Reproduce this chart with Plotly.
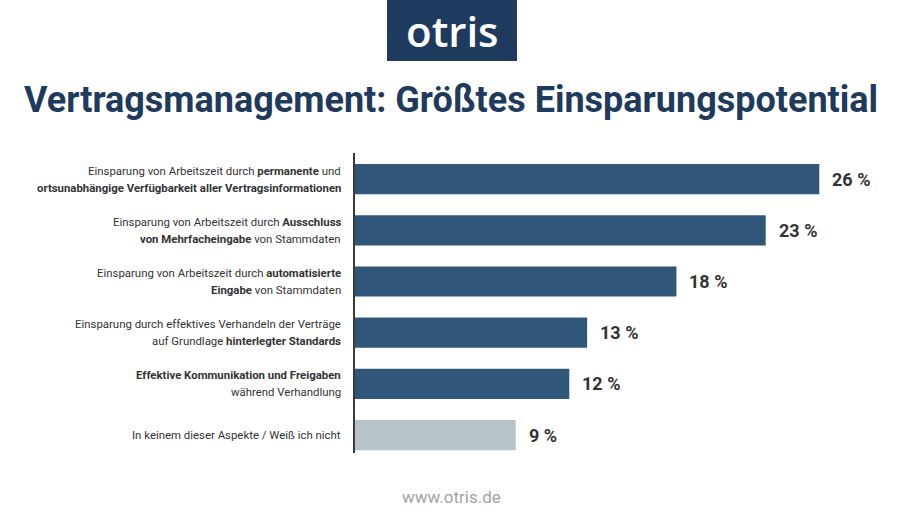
import plotly.graph_objects as go

categories_line1 = [
    "Einsparung von Arbeitszeit durch <b>permanente</b> und",
    "Einsparung von Arbeitszeit durch <b>Ausschluss</b>",
    "Einsparung von Arbeitszeit durch <b>automatisierte</b>",
    "Einsparung durch effektives Verhandeln der Verträge",
    "<b>Effektive Kommunikation und Freigaben</b>",
    "In keinem dieser Aspekte / Weiß ich nicht",
]
categories_line2 = [
    "<b>ortsunabhängige Verfügbarkeit aller Vertragsinformationen</b>",
    "<b>von Mehrfacheingabe</b> von Stammdaten",
    "<b>Eingabe</b> von Stammdaten",
    "auf Grundlage <b>hinterlegter Standards</b>",
    "während Verhandlung",
    "",
]
values = [26, 23, 18, 13, 12, 9]
value_labels = ["26 %", "23 %", "18 %", "13 %", "12 %", "9 %"]
bar_colors = ["#30577a", "#30577a", "#30577a", "#30577a", "#30577a", "#b6c4c9"]

pos = list(range(len(values)))

fig = go.Figure()
fig.add_trace(go.Bar(
    x=values, y=pos, orientation="h",
    marker=dict(color=bar_colors, line=dict(width=0)),
    width=0.59, hoverinfo="skip",
))

lab_font = dict(family="Roboto", size=11.4, color="#333333")
annotations = []
for i, (l1, l2) in enumerate(zip(categories_line1, categories_line2)):
    if l2:
        annotations.append(dict(x=0, y=i, xref="x", yref="y", text=l1, showarrow=False,
                                xanchor="right", yanchor="middle", xshift=-12, yshift=8.5, font=lab_font))
        annotations.append(dict(x=0, y=i, xref="x", yref="y", text=l2, showarrow=False,
                                xanchor="right", yanchor="middle", xshift=-12, yshift=-8.5, font=lab_font))
    else:
        annotations.append(dict(x=0, y=i, xref="x", yref="y", text=l1, showarrow=False,
                                xanchor="right", yanchor="middle", xshift=-12, font=lab_font))
    annotations.append(dict(x=values[i], y=i, xref="x", yref="y", text="<b>" + value_labels[i] + "</b>",
                            showarrow=False, xanchor="left", yanchor="middle", xshift=11,
                            font=dict(family="Roboto", size=18, color="#333333")))

W, H = 904, 526
ml, mr, mt, mb = 355, 24, 153, 73
pw, ph = W - ml - mr, H - mt - mb

def px_x(px):
    return (px - ml) / pw

def px_y(py):
    return 1 - (py - mt) / ph

# Title
annotations.append(dict(x=px_x(451), y=px_y(100), xref="paper", yref="paper",
                        text="<b>Vertragsmanagement: Größtes Einsparungspotential</b>",
                        showarrow=False, xanchor="center", yanchor="middle",
                        font=dict(family="Roboto", size=36, color="#1e3a5c")))
# Logo text
annotations.append(dict(x=px_x(452), y=px_y(31), xref="paper", yref="paper", text="otris",
                        showarrow=False, xanchor="center", yanchor="middle",
                        font=dict(family="Open Sans", size=42, color="#ffffff", weight=600)))
# Footer
annotations.append(dict(x=px_x(451), y=px_y(497), xref="paper", yref="paper", text="www.otris.de",
                        showarrow=False, xanchor="center", yanchor="middle",
                        font=dict(family="Roboto", size=17, color="#a3a3a3")))

fig.update_layout(
    width=W, height=H,
    margin=dict(l=ml, r=mr, t=mt, b=mb, pad=0),
    paper_bgcolor="white", plot_bgcolor="white",
    showlegend=False,
    annotations=annotations,
    shapes=[dict(type="rect", xref="paper", yref="paper",
                 x0=px_x(387), x1=px_x(517), y0=px_y(61), y1=px_y(0),
                 fillcolor="#1f3a5f", line=dict(width=0), layer="below")],
    xaxis=dict(range=[0, 29.4], visible=False, fixedrange=True),
    yaxis=dict(range=[5.35, -0.51], showticklabels=False, showgrid=False, zeroline=False,
               showline=True, linecolor="#3a3a3a", linewidth=2, ticks="", fixedrange=True),
)

fig.write_html("out.html")
